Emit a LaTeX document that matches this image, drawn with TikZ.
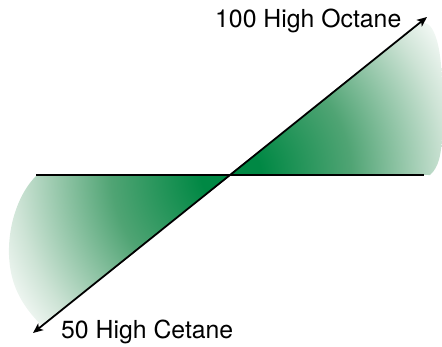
\documentclass[tikz,border=0pt]{standalone}
\usepackage{fontspec}
\setmainfont{TeX Gyre Heros}
\usetikzlibrary{arrows.meta}
\definecolor{greenD}{RGB}{0,136,68}
\definecolor{greenM}{RGB}{80,164,116}
\definecolor{greenL}{RGB}{205,227,213}
\definecolor{greenW}{RGB}{248,251,249}
\pgfdeclareradialshading{wedgeshade}{\pgfpoint{0bp}{0bp}}{%
  color(0bp)=(greenD); color(3bp)=(greenD); color(12bp)=(greenM);
  color(21.5bp)=(greenL); color(25.5bp)=(greenW); color(50bp)=(greenW)}
\tikzset{
  axisline/.style={line width=2.8pt, black},
  diagline/.style={line width=1.8pt, black, {Stealth[length=10pt,width=8.5pt,inset=2.5pt]}-{Stealth[length=10pt,width=8.5pt,inset=2.5pt]}},
  lbl/.style={anchor=base west, inner sep=0pt, font=\fontsize{24.8}{28}\selectfont}
}
\begin{document}
\begin{tikzpicture}[x=1pt,y=-1pt]
\useasboundingbox (0,0) rectangle (442,346);
\coordinate (O) at (231,174.5);
\coordinate (A) at (427,17);
\coordinate (B) at (33,333);
\coordinate (L) at (36,175);
\coordinate (R) at (424,175);
\coordinate (TU) at (418,24.2);
\coordinate (TL) at (42,325.8);
% upper right wedge
\begin{scope}
\clip (O) -- (TU) .. controls (432,16) and (442,40) .. (442,90)
  -- (442,130) .. controls (442,156) and (438,168) .. (430,175) -- cycle;
\shade[shading=wedgeshade] (O) circle (250);
\end{scope}
% lower left wedge
\begin{scope}
\clip (O) -- (36,176) .. controls (20,192) and (8,222) .. (9,255)
  .. controls (10,285) and (22,306) .. (TL) -- cycle;
\shade[shading=wedgeshade] (O) circle (250);
\end{scope}
\draw[axisline] (L) -- (R);
\draw[diagline] (B) -- (A);
\node[lbl] (top) at (215,27) {100 High Octane};
\node[lbl] (bot) at (61,338) {50 High Cetane};
\end{tikzpicture}
\end{document}
